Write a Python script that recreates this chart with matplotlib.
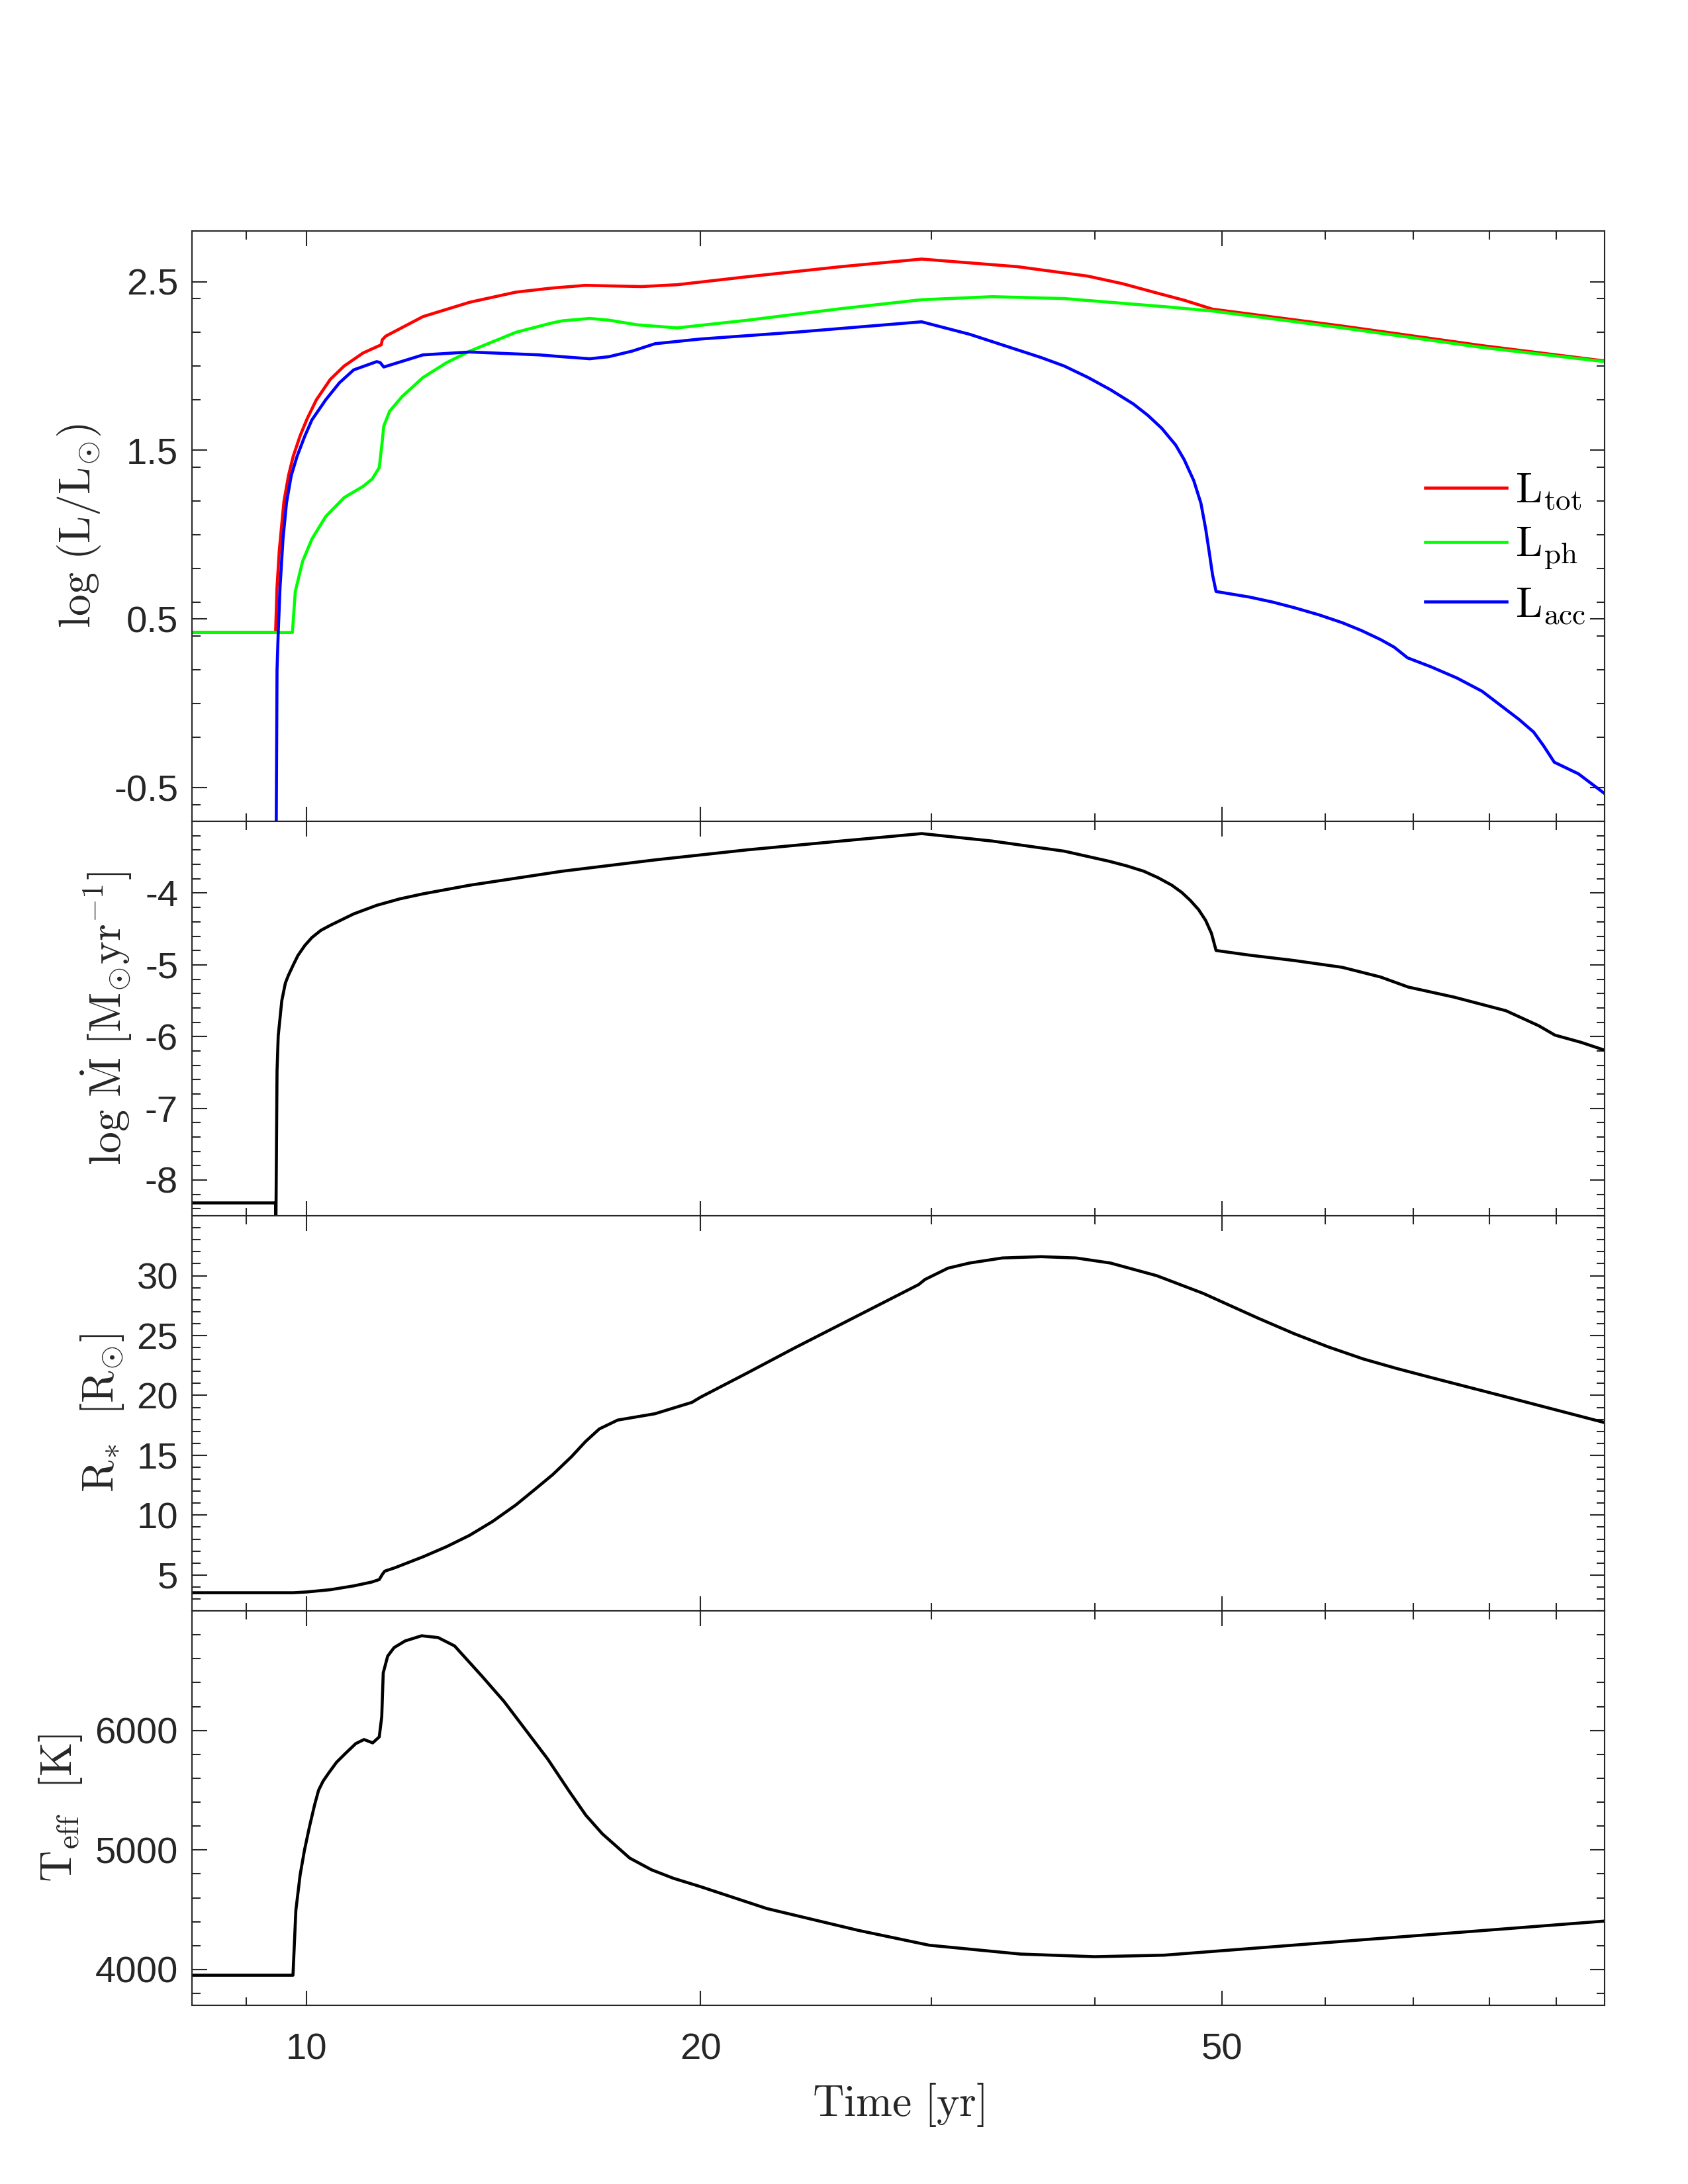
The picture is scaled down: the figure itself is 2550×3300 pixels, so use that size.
import matplotlib
matplotlib.use("Agg")
import matplotlib.pyplot as plt
from matplotlib.ticker import FixedLocator, MultipleLocator, NullFormatter, FixedFormatter

# ---------------- data ----------------
t_ltot = [8.18, 9.476, 9.499, 9.538, 9.616, 9.695, 9.774, 9.894, 10.016, 10.181, 10.433, 10.69,
          11.05, 11.41, 11.43, 11.5, 12.28, 13.33, 14.46, 15.4, 16.33, 18.03, 19.2, 21.7, 25.6,
          29.5, 34.9, 39.5, 42.0, 44.6, 46.8, 49.2, 61.8, 79.0, 98.0]
l_tot = [0.42, 0.42, 0.685, 0.908, 1.197, 1.353, 1.464, 1.587, 1.687, 1.80, 1.921, 2.0,
         2.077, 2.126, 2.155, 2.177, 2.293, 2.378, 2.438, 2.462, 2.478, 2.471, 2.482, 2.529, 2.589,
         2.634, 2.589, 2.533, 2.488, 2.433, 2.39, 2.337, 2.237, 2.121, 2.03]

t_lph = [8.18, 9.76, 9.81, 9.935, 10.1, 10.35, 10.69, 11.05, 11.23, 11.37, 11.43, 11.46, 11.58,
         11.84, 12.28, 12.8, 13.33, 14.46, 15.4, 15.69, 16.46, 17.02, 17.9, 19.2, 21.7, 25.6,
         29.5, 33.4, 37.9, 42.9, 45.5, 49.2, 61.8, 79.0, 98.0]
l_ph = [0.42, 0.42, 0.663, 0.84, 0.974, 1.108, 1.22, 1.286, 1.33, 1.398, 1.553, 1.643, 1.732,
        1.82, 1.932, 2.02, 2.088, 2.20, 2.255, 2.268, 2.282, 2.272, 2.244, 2.226, 2.271, 2.34,
        2.393, 2.411, 2.40, 2.366, 2.35, 2.326, 2.226, 2.11, 2.026]

t_lacc = [9.483, 9.50, 9.52, 9.55, 9.60, 9.66, 9.74, 9.84, 9.97, 10.1, 10.35, 10.6, 10.87,
          11.32, 11.39, 11.46, 12.28, 13.33, 15.06, 15.69, 16.46, 17.02, 17.73, 18.46, 20.0,
          23.6, 29.5, 32.1, 36.4, 37.9, 39.5, 41.1, 42.8, 43.9, 45.0, 46.1, 46.8, 47.6, 48.2,
          48.6, 48.9, 49.2, 49.5, 52.5, 54.7, 56.8, 59.3, 61.8, 63.9, 66.1, 67.7, 69.3, 72.2,
          75.6, 79.0, 84.3, 86.5, 88.0, 89.7, 93.6, 98.0]
l_acc = [-1.0, 0.2, 0.42, 0.685, 0.974, 1.19, 1.35, 1.464, 1.58, 1.68, 1.80, 1.90, 1.977,
         2.026, 2.02, 1.994, 2.066, 2.083, 2.066, 2.055, 2.043, 2.055, 2.088, 2.132, 2.16,
         2.20, 2.262, 2.188, 2.05, 2.0, 1.933, 1.86, 1.775, 1.708, 1.63, 1.532, 1.445, 1.32, 1.186,
         1.036, 0.90, 0.76, 0.663, 0.63, 0.60, 0.567, 0.525, 0.478, 0.432, 0.378, 0.333, 0.27,
         0.217, 0.15, 0.072, -0.095, -0.17, -0.25, -0.349, -0.418, -0.535]

t_mdot = [8.18, 9.476, 9.478, 9.50, 9.52, 9.58, 9.64, 9.69, 9.77, 9.855, 9.976, 10.1, 10.26,
          10.43, 10.87, 11.32, 11.79, 12.28, 13.33, 15.68, 18.46, 21.7, 25.6, 29.5, 33.4, 37.9,
          41.0, 42.3, 43.6, 44.7, 45.8, 46.6, 47.3, 48.0, 48.6, 49.1, 49.5, 52.5, 56.8, 61.8,
          66.1, 69.4, 75.2, 82.4, 87.3, 89.8, 94.0, 98.0]
log_mdot = [-8.32, -8.32, -9.0, -6.48, -5.99, -5.5, -5.255, -5.15, -5.01, -4.87, -4.73, -4.62,
            -4.52, -4.45, -4.29, -4.17, -4.08, -4.01, -3.89, -3.695, -3.537, -3.397, -3.274,
            -3.17, -3.274, -3.415, -3.555, -3.62, -3.695, -3.785, -3.89, -3.99, -4.10, -4.23,
            -4.38, -4.56, -4.80, -4.865, -4.94, -5.035, -5.17, -5.31, -5.45, -5.64, -5.85,
            -5.98, -6.08, -6.19]

t_rad = [8.18, 9.77, 10.0, 10.43, 10.87, 11.22, 11.37, 11.43, 11.48, 11.69, 12.28, 12.8, 13.33,
         13.88, 14.46, 14.94, 15.43, 15.94, 16.34, 16.74, 17.29, 18.46, 19.7, 20.0, 21.7, 23.6,
         29.35, 29.67, 30.9, 32.1, 34.0, 36.4, 38.7, 41.1, 44.6, 48.4, 50.4, 53.3, 56.8, 60.3,
         64.1, 68.0, 72.2, 81.6, 98.0]
r_star = [3.52, 3.52, 3.58, 3.77, 4.09, 4.41, 4.62, 5.04, 5.32, 5.61, 6.52, 7.37, 8.32,
          9.48, 10.86, 12.13, 13.4, 14.88, 16.15, 17.2, 17.94, 18.47, 19.42, 19.85, 21.86, 23.97,
          29.26, 29.68, 30.63, 31.06, 31.48, 31.59, 31.48, 31.06, 30.0, 28.52, 27.65, 26.45,
          25.15, 24.05, 23.05, 22.25, 21.5, 20.0, 17.73]

t_teff = [8.18, 9.77, 9.82, 9.894, 9.97, 10.06, 10.15, 10.22, 10.30, 10.40, 10.55, 10.71, 10.91,
          11.07, 11.24, 11.37, 11.42, 11.45, 11.54, 11.67, 11.90, 12.25, 12.61, 12.98, 13.62,
          14.16, 14.71, 15.29, 15.88, 16.35, 16.83, 17.66, 18.35, 19.07, 20.0, 22.47, 26.4,
          29.9, 35.1, 40.0, 45.2, 52.5, 64.1, 78.3, 98.0]
t_eff = [3952, 3952, 4496, 4792, 5000, 5200, 5380, 5500, 5575, 5642, 5735, 5806, 5890,
         5924, 5896, 5946, 6115, 6482, 6622, 6693, 6749, 6792, 6777, 6707, 6454,
         6242, 6003, 5760, 5490, 5290, 5135, 4932, 4834, 4763, 4693, 4510, 4327,
         4203, 4129, 4107, 4120, 4175, 4249, 4322, 4405]

x_major = [10, 20, 50]
x_minor = [9, 30, 40, 60, 70, 80, 90]
legend_labels = [r'$\mathrm{L_{tot}}$', r'$\mathrm{L_{ph}}$', r'$\mathrm{L_{acc}}$']

# ---------------- style ----------------
plt.rcParams['mathtext.fontset'] = 'cm'
plt.rcParams['axes.unicode_minus'] = False
plt.rcParams['font.family'] = ['Liberation Sans', 'DejaVu Sans']

AX = '#262626'
LW = 1.1
TICK_FS = 13.5
LAB_FS = 15.8
LEG_FS = 15.5

fig = plt.figure(figsize=(8.5, 11), dpi=300)
L, W = 0.1137, 0.8369
rects = [(L, 0.6239, W, 0.2703), (L, 0.4433, W, 0.1806),
         (L, 0.2624, W, 0.1809), (L, 0.0818, W, 0.1806)]
axes = [fig.add_axes(r) for r in rects]

for ax in axes:
    ax.set_xscale('log')
    ax.set_xlim(8.18, 98.0)
    ax.xaxis.set_major_locator(FixedLocator(x_major))
    ax.xaxis.set_minor_locator(FixedLocator(x_minor))
    ax.xaxis.set_minor_formatter(NullFormatter())
    ax.xaxis.set_major_formatter(FixedFormatter([str(v) for v in x_major]))
    for s in ax.spines.values():
        s.set_color(AX)
        s.set_linewidth(0.5)
    ax.tick_params(which='both', direction='in', top=True, right=True, color=AX,
                   width=0.5, labelcolor=AX, labelsize=TICK_FS)
    ax.tick_params(which='major', length=5.4)
    ax.tick_params(which='minor', length=3.0)
    ax.tick_params(axis='y', which='major', pad=5)
    ax.tick_params(axis='x', which='major', pad=10)
    if ax is not axes[-1]:
        ax.tick_params(axis='x', labelbottom=False)

# panel 1: luminosities
ax = axes[0]
ax.plot(t_ltot, l_tot, color=(1, 0, 0), lw=LW, label=legend_labels[0])
ax.plot(t_lph, l_ph, color=(0, 1, 0), lw=LW, label=legend_labels[1])
ax.plot(t_lacc, l_acc, color=(0, 0, 1), lw=LW, label=legend_labels[2])
ax.set_ylim(-0.7, 2.8)
ax.yaxis.set_major_locator(FixedLocator([-0.5, 0.5, 1.5, 2.5]))
ax.yaxis.set_major_formatter(FixedFormatter(['-0.5', '0.5', '1.5', '2.5']))
ax.yaxis.set_minor_locator(FixedLocator([-0.6, -0.2, 0.0, 0.2, 0.4, 0.6, 0.8, 1.0, 1.2, 1.4,
                                         1.8, 2.0, 2.2, 2.4]))
ax.set_ylabel(r'$\mathrm{log\ (L/L_{\odot})}$', fontsize=LAB_FS, color=AX, labelpad=4)
ax.legend(loc='upper left', bbox_to_anchor=(0.873, 0.593), frameon=False, fontsize=LEG_FS,
          handlelength=1.9, handletextpad=0.2, labelspacing=0.33, borderpad=0, borderaxespad=0)

# panel 2: accretion rate
ax = axes[1]
ax.plot(t_mdot, log_mdot, color='k', lw=LW)
ax.set_ylim(-8.5, -3.0)
ax.yaxis.set_major_locator(FixedLocator([-8, -7, -6, -5, -4]))
ax.yaxis.set_major_formatter(FixedFormatter(['-8', '-7', '-6', '-5', '-4']))
ax.yaxis.set_minor_locator(MultipleLocator(0.2))
ax.set_ylabel(r'$\mathrm{log\ \dot{M}\ [M_{\odot}yr^{-1}]}$', fontsize=LAB_FS, color=AX, labelpad=4)

# panel 3: radius
ax = axes[2]
ax.plot(t_rad, r_star, color='k', lw=LW)
ax.set_ylim(2, 35)
ax.yaxis.set_major_locator(FixedLocator([5, 10, 15, 20, 25, 30]))
ax.yaxis.set_minor_locator(MultipleLocator(1))
ax.set_ylabel(r'$\mathrm{R_{\ast}\ \ [R_{\odot}]}$', fontsize=LAB_FS, color=AX, labelpad=4)

# panel 4: effective temperature
ax = axes[3]
ax.plot(t_teff, t_eff, color='k', lw=LW)
ax.set_ylim(3700, 7000)
ax.yaxis.set_major_locator(FixedLocator([4000, 5000, 6000]))
ax.yaxis.set_minor_locator(MultipleLocator(200))
ax.set_ylabel(r'$\mathrm{T_{eff}\ \ [K]}$', fontsize=LAB_FS, color=AX, labelpad=4)
ax.set_xlabel(r'$\mathrm{Time\ [yr]}$', fontsize=LAB_FS, color=AX, labelpad=5)

fig.savefig('out.png', dpi=300)
